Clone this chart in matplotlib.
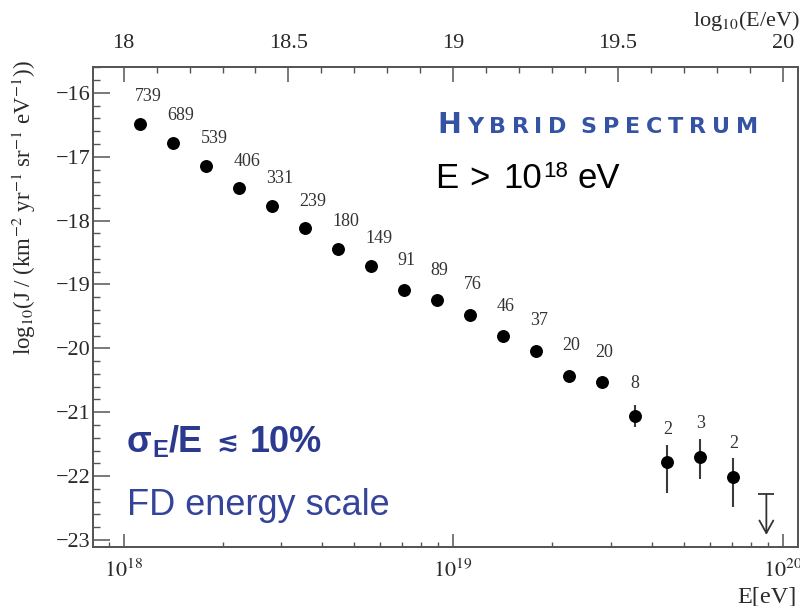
import math
import matplotlib
matplotlib.use("Agg")
import matplotlib.pyplot as plt
from matplotlib.ticker import MultipleLocator, FuncFormatter, LogLocator, NullFormatter

# ---------------- data ----------------
log_E = [18.05, 18.15, 18.25, 18.35, 18.45, 18.55, 18.65, 18.75, 18.85, 18.95,
         19.05, 19.15, 19.25, 19.35, 19.45, 19.55, 19.65, 19.75, 19.85]
log_J = [-16.48, -16.78, -17.14, -17.49, -17.77, -18.12, -18.44, -18.71, -19.09, -19.25,
         -19.47, -19.81, -20.04, -20.43, -20.53, -21.06, -21.78, -21.70, -22.01]
err_up = [0, 0, 0, 0, 0, 0, 0, 0, 0, 0, 0, 0, 0, 0, 0, 0.17, 0.27, 0.28, 0.29]
err_dn = [0, 0, 0, 0, 0, 0, 0, 0, 0, 0, 0, 0, 0, 0, 0, 0.17, 0.48, 0.34, 0.48]
counts = [739, 689, 539, 406, 331, 239, 180, 149, 91, 89, 76, 46, 37, 20, 20, 8, 2, 3, 2]
ul_log_E = 19.95
ul_cap = -22.28
ul_tip = -22.92

top_ticks = [18, 18.5, 19, 19.5, 20]

# ---------------- style ----------------
plt.rcParams["font.family"] = "serif"
plt.rcParams["font.serif"] = ["Liberation Serif", "DejaVu Serif"]
plt.rcParams["mathtext.fontset"] = "stix"

W, H = 800, 606
fig = plt.figure(figsize=(W / 100, H / 100), dpi=100)
ax = fig.add_axes([93 / W, 1 - 547 / H, 705 / W, (547 - 66.7) / H])

axis_col = "#555555"
lab_col = "#2a2a2a"

E = [10 ** v for v in log_E]
ax.errorbar(E, log_J, yerr=[err_dn, err_up], fmt="o", ms=8.3, color="black",
            ecolor="#3a3a3a", elinewidth=1.5, capsize=0, zorder=3)

for i, (x, y, n) in enumerate(zip(E, log_J, counts)):
    if err_up[i] > 0:
        off = (0, 33)
    elif i < 8:
        off = (8, 27)
    else:
        off = (3, 30)
    ax.annotate(str(n), (x, y), xytext=off, textcoords="offset pixels",
                ha="center", va="center", fontsize=13, color="#333333")

# upper limit
ax.plot([10 ** ul_log_E], [ul_cap], marker="_", ms=12, mew=1.3, color="#333333")
ax.annotate("", xy=(10 ** ul_log_E, ul_tip), xytext=(10 ** ul_log_E, ul_cap),
            arrowprops=dict(arrowstyle="->,head_length=0.45,head_width=0.25",
                            color="#333333", lw=1.3, shrinkA=0, shrinkB=0,
                            mutation_scale=20))

# axes, scales
ax.set_xscale("log")
ax.set_xlim(10 ** 17.907, 10 ** 20.046)
ax.set_ylim(-23.11, -15.59)
ax.xaxis.set_major_locator(LogLocator(base=10))
ax.xaxis.set_minor_locator(LogLocator(base=10, subs=range(2, 10)))
ax.xaxis.set_major_formatter(FuncFormatter(lambda v, p: r"$10^{%d}$" % round(math.log10(v))))
ax.xaxis.set_minor_formatter(NullFormatter())
ax.yaxis.set_major_locator(MultipleLocator(1))
ax.yaxis.set_minor_locator(MultipleLocator(0.2))
ax.yaxis.set_major_formatter(FuncFormatter(lambda v, p: "\u2212%d" % abs(round(v))))

ax.tick_params(axis="x", which="major", direction="in", length=9.5, width=1.1,
               color=axis_col, labelsize=16, pad=9, labelcolor=lab_col)
ax.tick_params(axis="x", which="minor", direction="in", length=3.6, width=1.0, color=axis_col)
ax.tick_params(axis="y", which="major", direction="in", length=12, width=1.1,
               color=axis_col, labelsize=16, pad=2, labelcolor=lab_col)
ax.tick_params(axis="y", which="minor", direction="in", length=5, width=1.0, color=axis_col)

ax2 = ax.twiny()
ax2.set_xlim(17.907, 20.046)
ax2.set_xticks(top_ticks)
ax2.xaxis.set_minor_locator(MultipleLocator(0.1))
ax2.xaxis.set_major_formatter(FuncFormatter(lambda v, p: "%g" % v))
ax2.tick_params(axis="x", which="major", direction="in", length=11, width=1.1,
                color=axis_col, labelsize=16, pad=10, labelcolor=lab_col)
ax2.tick_params(axis="x", which="minor", direction="in", length=4.3, width=1.0, color=axis_col)

for a in (ax, ax2):
    for s in a.spines.values():
        s.set_color(axis_col)
        s.set_linewidth(1.3)

# axis titles
fig.text(24 / W, 1 - 60 / H,
         r"log$_{10}$(J / (km$^{-2}$ yr$^{-1}$ sr$^{-1}$ eV$^{-1}$))",
         rotation=90, ha="center", va="top", fontsize=16.5, color=lab_col)
fig.text(693 / W, 1 - 26 / H, r"log$_{10}$(E/eV)", ha="left", va="baseline",
         fontsize=16, color=lab_col)
fig.text(737 / W, 1 - 602 / H, "E[eV]", ha="left", va="baseline",
         fontsize=17.5, color=lab_col)

renderer = fig.canvas.get_renderer()


def draw_runs(x0, y0, runs, tracking=0.0):
    """runs: (text, fontsize, dy_px, gap_before_px, kwargs)"""
    x = x0
    for s, size, dy, gap, kw in runs:
        x += gap
        t = fig.text(x / W, 1 - (y0 + dy) / H, s, fontsize=size,
                     ha="left", va="baseline", **kw)
        bb = t.get_window_extent(renderer)
        x += bb.width + tracking
    return x


# Hybrid spectrum (small caps, letter-spaced)
hyb_col = "#3553a5"
hkw = dict(family=["DejaVu Sans"], weight="bold", color=hyb_col)
word1 = "YBRID"
word2 = "SPECTRUM"
small = 16
runs = [("H", 20.5, 0, 0, hkw)]
runs += [(c, small, 0, 0, hkw) for c in word1]
runs += [(c, small, 0, 8, hkw) if i == 0 else (c, small, 0, 0, hkw) for i, c in enumerate(word2)]
tmp = [fig.text(0, 0, s, fontsize=sz, **kw) for s, sz, _, _, kw in runs]
nat = sum(t.get_window_extent(renderer).width for t in tmp) + 8
for t in tmp:
    t.remove()
track = (758 - 437 - nat) / (len(runs) - 1)
draw_runs(437, 133, runs, tracking=track)

# E > 10^18 eV
ekw = dict(family=["Liberation Sans", "DejaVu Sans"], color="black")
draw_runs(435, 188, [("E", 25, 0, 0, ekw), (">", 25, 0, 11, ekw),
                     ("10", 25, 0, 14, ekw), ("18", 16, -11, 1, ekw),
                     ("eV", 25, 0, 9, ekw)])

# sigma_E / E <~ 10%
s_col = "#2b3a8f"
skw = dict(family=["Liberation Sans", "DejaVu Sans"], weight="bold", color=s_col)
draw_runs(127, 452, [("\u03c3", 26, 0, 0, skw), ("E", 17, 5, 1, skw),
                     ("/E", 26, 0, 0, skw), ("\u2272", 19, -2, 14, skw),
                     ("10%", 26, 0, 11, skw)])

fkw = dict(family=["Liberation Sans", "DejaVu Sans"], color="#34449a")
draw_runs(127, 515, [("FD energy scale", 26, 0, 0, fkw)])

fig.savefig("out.png", dpi=100)
